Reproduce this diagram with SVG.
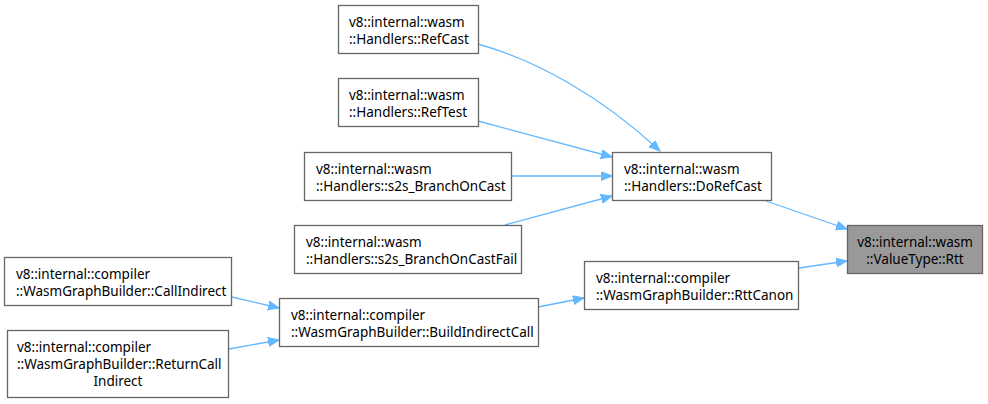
<svg xmlns="http://www.w3.org/2000/svg" width="988" height="404" viewBox="0 0 988 404">
<defs>
<style>
.box{fill:#ffffff;stroke:#666666;stroke-width:1.3}
.hl{fill:#999999;stroke:#666666;stroke-width:1.3}
text{font-family:"Noto Sans","DejaVu Sans",sans-serif;font-size:13.5px;fill:#000000}
.e{fill:none;stroke:#63b8ff;stroke-width:1.3}
</style>
<marker id="ah" markerUnits="userSpaceOnUse" markerWidth="12" markerHeight="10" refX="11" refY="4.5" orient="auto">
<path d="M0,0 L11,4.5 L0,9 z" fill="#63b8ff" stroke="#63b8ff" stroke-width="1"/>
</marker>
</defs>
<rect width="988" height="404" fill="#ffffff"/>
<g id="connectors">
<path class="e" marker-end="url(#ah)" d="M478,44 C535,60 600,95 660,151"/>
<path class="e" marker-end="url(#ah)" d="M478,121 L612,157"/>
<path class="e" marker-end="url(#ah)" d="M512,176 L612,176"/>
<path class="e" marker-end="url(#ah)" d="M505,225 L612,196"/>
<path class="e" marker-end="url(#ah)" d="M766,201 L847,229"/>
<path class="e" marker-end="url(#ah)" d="M799,268 L847,261"/>
<path class="e" marker-end="url(#ah)" d="M538,307 L584,298"/>
<path class="e" marker-end="url(#ah)" d="M232,297 L279,308"/>
<path class="e" marker-end="url(#ah)" d="M229,349 L279,340"/>
</g>
<g id="node-refcast">
<rect class="box" x="338.5" y="5.5" width="140" height="48"/>
<text x="349" y="27">v8::internal::wasm</text>
<text x="349" y="44">::Handlers::RefCast</text>
</g>
<g id="node-reftest">
<rect class="box" x="338.5" y="78.5" width="140" height="48"/>
<text x="349" y="100">v8::internal::wasm</text>
<text x="349" y="117">::Handlers::RefTest</text>
</g>
<g id="node-branchoncast">
<rect class="box" x="304.5" y="152.5" width="207" height="48"/>
<text x="316" y="174">v8::internal::wasm</text>
<text x="316" y="191">::Handlers::s2s_BranchOnCast</text>
</g>
<g id="node-branchoncastfail">
<rect class="box" x="294.5" y="225.5" width="227" height="48"/>
<text x="306" y="247">v8::internal::wasm</text>
<text x="306" y="264">::Handlers::s2s_BranchOnCastFail</text>
</g>
<g id="node-dorefcast">
<rect class="box" x="612.5" y="152.5" width="159" height="48"/>
<text x="624" y="174">v8::internal::wasm</text>
<text x="624" y="191">::Handlers::DoRefCast</text>
</g>
<g id="node-rtt">
<rect class="hl" x="847.5" y="225.5" width="135" height="48"/>
<text x="915" y="247" text-anchor="middle">v8::internal::wasm</text>
<text x="915" y="264" text-anchor="middle">::ValueType::Rtt</text>
</g>
<g id="node-rttcanon">
<rect class="box" x="584.5" y="261.5" width="214" height="48"/>
<text x="596" y="283">v8::internal::compiler</text>
<text x="596" y="300">::WasmGraphBuilder::RttCanon</text>
</g>
<g id="node-buildindirectcall">
<rect class="box" x="279.5" y="298.5" width="259" height="48"/>
<text x="291" y="320">v8::internal::compiler</text>
<text x="291" y="337">::WasmGraphBuilder::BuildIndirectCall</text>
</g>
<g id="node-callindirect">
<rect class="box" x="4.5" y="257.5" width="227" height="48"/>
<text x="16" y="279">v8::internal::compiler</text>
<text x="16" y="296">::WasmGraphBuilder::CallIndirect</text>
</g>
<g id="node-returncallindirect">
<rect class="box" x="7.5" y="330.5" width="221" height="67"/>
<text x="17" y="352">v8::internal::compiler</text>
<text x="17" y="369">::WasmGraphBuilder::ReturnCall</text>
<text x="118" y="386" text-anchor="middle">Indirect</text>
</g>
</svg>
